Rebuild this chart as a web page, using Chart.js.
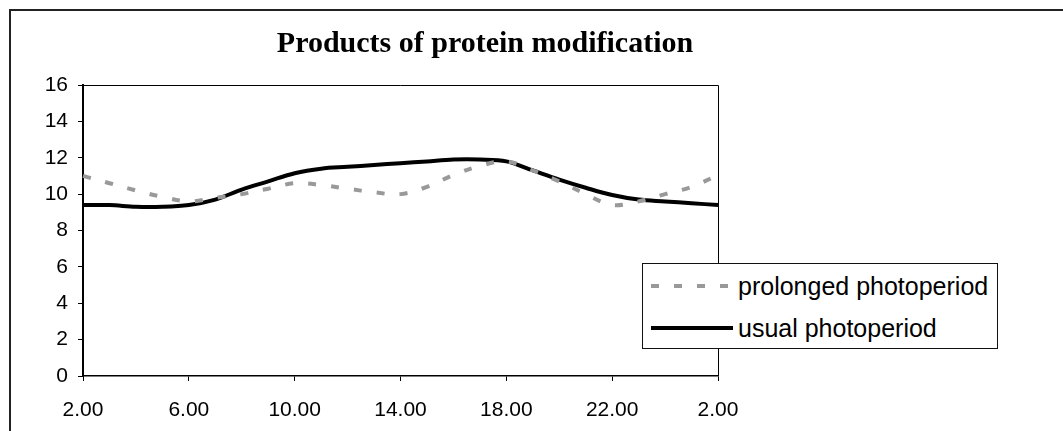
<!DOCTYPE html>
<html>
<head>
<meta charset="utf-8">
<script src="https://cdn.jsdelivr.net/npm/chart.js@4.4.0/dist/chart.umd.min.js"></script>
<style>
  html, body { margin: 0; padding: 0; background: #fff; }
  #wrap { position: relative; width: 1063px; height: 431px; overflow: hidden; }
  #frame { position: absolute; left: 9px; top: 9px; width: 1100px; height: 500px;
           border-left: 2px solid #222; border-top: 2px solid #222; }
  #chart { position: absolute; left: 0; top: 0; }
  #legend { position: absolute; left: 642px; top: 263px; width: 354px; height: 84px;
            border: 1px solid #111; background: #fff;
            font-family: "Liberation Sans", Arial, sans-serif; font-size: 25px; color: #000; }
  .item { position: absolute; left: 8px; height: 28px; display: flex; align-items: center; white-space: nowrap; }
  .item svg { margin-right: 5px; }
</style>
</head>
<body>
<div id="wrap">
  <div id="frame"></div>
  <canvas id="chart" width="1063" height="431"></canvas>
  <div id="legend"></div>
</div>
<script>
// hours from 2.00 to 2.00 next day
const hourLabels = ["2.00", "3.00", "4.00", "5.00", "6.00", "7.00", "8.00", "9.00", "10.00",
    "11.00", "12.00", "13.00", "14.00", "15.00", "16.00", "17.00", "18.00", "19.00", "20.00",
    "21.00", "22.00", "23.00", "0.00", "1.00", "2.00"];
const tickLabels = ["2.00", "6.00", "10.00", "14.00", "18.00", "22.00", "2.00"];

const prolonged = [11.0, 10.6, 10.2, 9.85, 9.6, 9.8, 10.0, 10.3, 10.6, 10.5, 10.3, 10.1, 10.0,
    10.4, 11.05, 11.55, 11.8, 11.3, 10.7, 10.0, 9.4, 9.6, 10.0, 10.4, 11.05];
const usual = [9.4, 9.4, 9.3, 9.3, 9.4, 9.7, 10.25, 10.7, 11.15, 11.4, 11.5, 11.6, 11.7, 11.8,
    11.9, 11.9, 11.8, 11.3, 10.8, 10.35, 9.95, 9.7, 9.6, 9.5, 9.4];

const seriesNames = ["prolonged photoperiod", "usual photoperiod"];
const titleText = "Products of protein modification";

const sansFont = "'Liberation Sans', Arial, sans-serif";

// top and right edge of the plot area
const plotFrame = {
    id: "plotFrame",
    afterDraw(chart) {
        const a = chart.chartArea;
        const ctx = chart.ctx;
        ctx.save();
        ctx.strokeStyle = "#000";
        ctx.lineWidth = 1;
        ctx.beginPath();
        ctx.moveTo(a.left, a.top + 0.5);
        ctx.lineTo(a.right + 0.5, a.top + 0.5);
        ctx.lineTo(a.right + 0.5, a.bottom);
        ctx.stroke();
        ctx.restore();
    }
};

const chart = new Chart(document.getElementById("chart"), {
    type: "line",
    data: {
        labels: hourLabels,
        datasets: [{
            label: seriesNames[0],
            data: prolonged,
            borderColor: "#999999",
            borderWidth: 4,
            borderDash: [8, 15],
            pointRadius: 0,
            tension: 0.35,
            fill: false
        }, {
            label: seriesNames[1],
            data: usual,
            borderColor: "#000000",
            borderWidth: 4,
            pointRadius: 0,
            tension: 0.35,
            fill: false
        }]
    },
    options: {
        responsive: false,
        animation: false,
        layout: { padding: { left: 0, right: 93, top: 26, bottom: 0 } },
        plugins: {
            legend: { display: false },
            tooltip: { enabled: false },
            title: {
                display: true,
                text: titleText,
                color: "#000",
                font: { family: "'Liberation Serif', 'Times New Roman', serif", size: 30, weight: "bold" },
                padding: { top: 0, bottom: 23 }
            }
        },
        scales: {
            x: {
                type: "category",
                offset: false,
                afterFit(scale) { scale.height = 55; },
                grid: {
                    drawOnChartArea: false,
                    drawTicks: true,
                    tickLength: 5,
                    tickColor: (c) => (c.index % 4 === 0 ? "#000" : "rgba(0,0,0,0)")
                },
                border: { display: true, color: "#000", width: 1.5 },
                ticks: {
                    autoSkip: false,
                    maxRotation: 0,
                    padding: 17,
                    color: "#000",
                    font: { family: sansFont, size: 21 },
                    callback: (v, i) => (i % 4 === 0 ? tickLabels[i / 4] : "")
                }
            },
            y: {
                min: 0,
                max: 16,
                afterFit(scale) { scale.width = 83; },
                grid: { drawOnChartArea: false, drawTicks: true, tickLength: 5, tickColor: "#000" },
                border: { display: true, color: "#000", width: 2 },
                ticks: {
                    stepSize: 2,
                    padding: 10,
                    color: "#000",
                    font: { family: sansFont, size: 21 }
                }
            },
            y1: {
                position: "right",
                afterFit(scale) { scale.width = 252; },
                grid: { display: false },
                border: { display: false },
                ticks: { display: false }
            }
        }
    },
    plugins: [plotFrame]
});

// legend drawn as html so it can float over the right edge of the plot
const legendEl = document.getElementById("legend");
chart.data.datasets.forEach((ds, i) => {
    const item = document.createElement("div");
    item.className = "item";
    item.style.top = (i === 0 ? 8 : 50) + "px";
    const dash = ds.borderDash ? ' stroke-dasharray="' + ds.borderDash.join(",") + '"' : "";
    item.innerHTML = '<svg width="82" height="8"><line x1="0" y1="4" x2="82" y2="4" stroke="' +
        ds.borderColor + '" stroke-width="4"' + dash + '/></svg><span>' + ds.label + '</span>';
    legendEl.appendChild(item);
});
</script>
</body>
</html>
